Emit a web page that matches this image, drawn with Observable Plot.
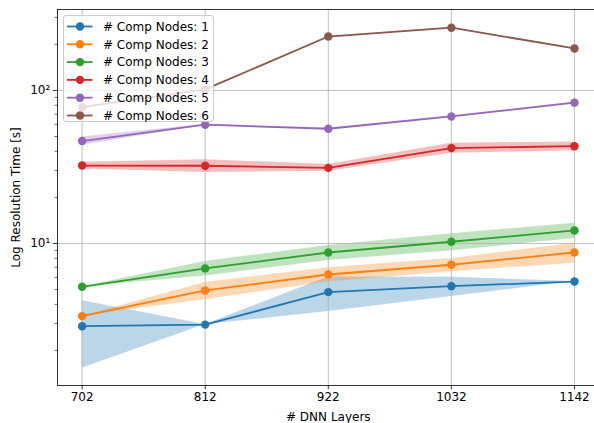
<!DOCTYPE html>
<html>
<head>
<meta charset="utf-8">
<script src="https://cdn.jsdelivr.net/npm/d3@7"></script>
<script src="https://cdn.jsdelivr.net/npm/@observablehq/plot@0.6"></script>
<style>
  html, body { margin: 0; padding: 0; background: white; overflow: hidden; }
  #wrap { position: relative; width: 594px; height: 423px; overflow: hidden; }
  #wrap svg, #wrap svg text { font-family: 'DejaVu Sans', sans-serif !important; }
  #wrap svg text { font-size: 12px !important; }
  #wrap > svg { max-width: none !important; width: 600px !important; height: 423px !important; display: block; }
  #legend { position: absolute; left: 63px; top: 15px; width: 151px; height: 107px;
    box-sizing: border-box; border: 1px solid #cccccc; border-radius: 3px;
    background: rgba(255,255,255,0.8); }
  #legend svg { position: absolute; left: -1px; top: -1px; }
</style>
</head>
<body>
<div id="wrap"></div>
<script>
// Data
const layers = [702, 812, 922, 1032, 1142];
const seriesNames = ["# Comp Nodes: 1", "# Comp Nodes: 2", "# Comp Nodes: 3",
                     "# Comp Nodes: 4", "# Comp Nodes: 5", "# Comp Nodes: 6"];
const colors = ["#1f77b4", "#ff7f0e", "#2ca02c", "#d62728", "#9467bd", "#8c564b"];

const mean1 = [2.88, 2.95, 4.81, 5.26, 5.64];
const mean2 = [3.35, 4.93, 6.27, 7.26, 8.73];
const mean3 = [5.21, 6.87, 8.73, 10.26, 12.16];
const mean4 = [32.3, 32.2, 31.2, 42.0, 43.2];
const mean5 = [46.7, 59.7, 56.2, 67.6, 83.2];
const mean6 = [77.8, 101.5, 225, 257, 188];

const std1 = [1.35, 0.0, 1.22, 0.75, 0.0];
const std2 = [0.0, 0.63, 0.67, 0.72, 1.3];
const std3 = [0.0, 0.74, 0.98, 1.3, 1.4];
const std4 = [1.6, 3.1, 1.6, 3.15, 2.9];
const std5 = [2.9, 0.5, 0.5, 0.7, 0.8];
const std6 = [0.4, 0.5, 1.0, 1.0, 0.8];

const yMajor = [10, 100];
const yMajorLabels = ["10¹", "10²"];
const yMinor = [2, 3, 4, 5, 6, 7, 8, 9, 20, 30, 40, 50, 60, 70, 80, 90, 200, 300];

const means = [mean1, mean2, mean3, mean4, mean5, mean6];
const stds = [std1, std2, std3, std4, std5, std6];

const rows = [];
means.forEach((m, s) => m.forEach((v, i) => rows.push({
  series: seriesNames[s], color: colors[s], layer: layers[i],
  value: v, lo: v - stds[s][i], hi: v + stds[s][i]
})));

const gridStyle = {stroke: "#b0b0b0", strokeOpacity: 1, strokeWidth: 0.8};

const areaMarks = seriesNames.map((name, s) =>
  Plot.areaY(rows.filter(d => d.series === name),
    {x: "layer", y1: "lo", y2: "hi", fill: colors[s], fillOpacity: 0.3}));

const seriesMarks = seriesNames.flatMap((name, s) => {
  const data = rows.filter(d => d.series === name);
  return [
    Plot.line(data, {x: "layer", y: "value", stroke: colors[s], strokeWidth: 1.8}),
    Plot.dot(data, {x: "layer", y: "value", fill: colors[s], r: 4.2})
  ];
});

const chart = Plot.plot({
  width: 600, height: 423,
  marginLeft: 57, marginRight: 1.4, marginTop: 9, marginBottom: 38,
  x: {domain: [680, 1164]},
  y: {type: "log", domain: [1.18, 338]},
  style: {fontSize: "12px", color: "black", background: "white"},
  marks: [
    ...areaMarks,
    Plot.gridX(layers, gridStyle),
    Plot.gridY(yMajor, gridStyle),
    ...seriesMarks,
    Plot.frame({stroke: "black", strokeWidth: 0.8}),
    Plot.axisX(layers, {tickSize: 4.2, tickPadding: 3, strokeWidth: 0.8,
      tickFormat: d => String(d), fontSize: 12,
      label: "# DNN Layers", labelAnchor: "center", labelArrow: "none", labelOffset: 35}),
    Plot.axisY(yMajor, {tickSize: 4.2, tickPadding: 3, strokeWidth: 0.8,
      tickFormat: d => yMajorLabels[yMajor.indexOf(d)], fontSize: 12,
      label: "Log Resolution Time [s]", labelAnchor: "center", labelArrow: "none", labelOffset: 46}),
    Plot.axisY(yMinor, {tickSize: 2.4, strokeWidth: 0.6, tickFormat: () => "", label: null})
  ]
});

const wrap = document.getElementById("wrap");
wrap.appendChild(chart);

// Legend inside the axes (upper left)
const legend = document.createElement("div");
legend.id = "legend";
wrap.appendChild(legend);
const lsvg = d3.select(legend).append("svg").attr("width", 151).attr("height", 107);
seriesNames.forEach((name, s) => {
  const y = 11.5 + s * 17.8;
  const g = lsvg.append("g");
  g.append("line").attr("x1", 4).attr("x2", 29.5).attr("y1", y).attr("y2", y)
    .attr("stroke", colors[s]).attr("stroke-width", 1.8);
  g.append("circle").attr("cx", 17).attr("cy", y).attr("r", 4.2).attr("fill", colors[s]);
  g.append("text").attr("x", 40).attr("y", y).attr("dy", "0.35em")
    .attr("font-size", 12).attr("fill", "black")
    .text(name);
});
</script>
</body>
</html>
